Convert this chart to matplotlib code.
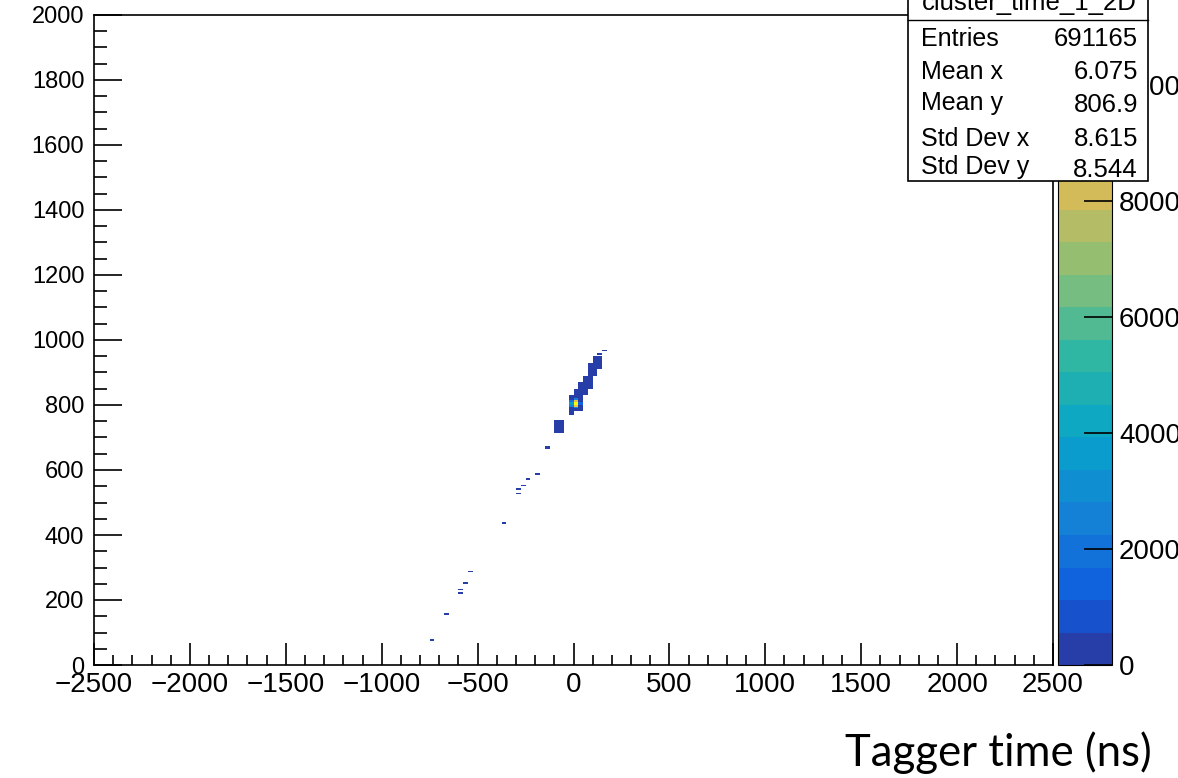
import numpy as np
import matplotlib.pyplot as plt
from matplotlib.colors import LinearSegmentedColormap, ListedColormap, BoundaryNorm
from matplotlib.patches import Rectangle
from matplotlib.lines import Line2D
from matplotlib.ticker import MultipleLocator

plt.rcParams['font.family'] = ['Liberation Sans', 'DejaVu Sans']

# binning of the 2D histogram
x_edges = np.linspace(-2500, 2500, 201)
y_edges = np.linspace(0, 2000, 401)

# single entries scattered along the diagonal
lone_x = [-738, -658, -597, -589, -568, -538, -368, -290, -278, -269, -250, -191, -147, -130, 135, 149, 170]
lone_y = [78, 158, 221, 234, 250, 286, 439, 525, 541, 551, 572, 588, 666, 672, 940, 957, 969]
lone_n = 40

# body of the streak, rows of (y_lo, y_hi, x_lo, x_hi) with a count
streak_ylo = [930, 910, 890, 870, 850, 830, 815, 780, 770, 715]
streak_yhi = [950, 930, 910, 890, 870, 850, 830, 815, 780, 755]
streak_xlo = [100, 75, 75, 50, 25, 0, -25, -25, -25, -100]
streak_xhi = [150, 150, 125, 100, 100, 75, 50, 50, 0, -50]
streak_n = [150, 200, 250, 250, 300, 350, 400, 450, 300, 400]

# the peak around (0, 805)
hot_x = [12.5, 12.5, 12.5, 12.5, 12.5, 12.5, -12.5, -12.5, -12.5, -12.5, 37.5, 37.5]
hot_y = [797.5, 802.5, 807.5, 812.5, 792.5, 817.5, 797.5, 802.5, 807.5, 812.5, 802.5, 807.5]
hot_n = [9000, 11000, 10800, 8500, 3000, 2500, 2500, 3500, 3500, 2000, 1500, 1500]

z_max = 11200
n_levels = 20

stats_names = ['Entries', 'Mean x', 'Mean y', 'Std Dev x', 'Std Dev y']
stats_vals = ['691165', '6.075', '806.9', '8.615', '8.544']

# fill the histogram
H = np.zeros((len(y_edges) - 1, len(x_edges) - 1))
xc = 0.5 * (x_edges[1:] + x_edges[:-1])
yc = 0.5 * (y_edges[1:] + y_edges[:-1])

def ibin(edges, v):
    return np.searchsorted(edges, v, side='right') - 1

for x, y in zip(lone_x, lone_y):
    H[ibin(y_edges, y), ibin(x_edges, x)] = lone_n
for ylo, yhi, xlo, xhi, n in zip(streak_ylo, streak_yhi, streak_xlo, streak_xhi, streak_n):
    iy = (yc >= ylo) & (yc < yhi)
    ix = (xc >= xlo) & (xc < xhi)
    H[np.ix_(iy, ix)] = n
for x, y, n in zip(hot_x, hot_y, hot_n):
    H[ibin(y_edges, y), ibin(x_edges, x)] = n

# ROOT kBird palette, 20 contour levels
bird = LinearSegmentedColormap.from_list('bird', list(zip(
    np.linspace(0, 1, 9),
    zip([0.2082, 0.0592, 0.0780, 0.0232, 0.1802, 0.5301, 0.8186, 0.9956, 0.9764],
        [0.1664, 0.3599, 0.5041, 0.6419, 0.7178, 0.7492, 0.7328, 0.7862, 0.9832],
        [0.5293, 0.8684, 0.8385, 0.7914, 0.6425, 0.4662, 0.3499, 0.1968, 0.0539]))))
cmap = ListedColormap([bird((i + 1) / n_levels) for i in range(n_levels)])
levels = np.linspace(0, z_max, n_levels + 1)
norm = BoundaryNorm(levels, n_levels)

W, Hh = 1178, 778
fig = plt.figure(figsize=(W / 100, Hh / 100), dpi=100)
ax = fig.add_axes([94 / W, 1 - 665 / Hh, 959 / W, 650 / Hh])
mesh = ax.pcolormesh(x_edges, y_edges, np.ma.masked_equal(H, 0), cmap=cmap, norm=norm)

ax.set_xlim(-2500, 2500)
ax.set_ylim(0, 2000)
ax.xaxis.set_major_locator(MultipleLocator(500))
ax.xaxis.set_minor_locator(MultipleLocator(100))
ax.yaxis.set_major_locator(MultipleLocator(200))
ax.yaxis.set_minor_locator(MultipleLocator(50))
ax.tick_params(axis='x', which='major', direction='in', length=16, width=1.2, labelsize=20, pad=5)
ax.tick_params(axis='x', which='minor', direction='in', length=7, width=1.2)
ax.tick_params(axis='y', which='major', direction='in', length=20, width=1.2, labelsize=17, pad=7)
ax.tick_params(axis='y', which='minor', direction='in', length=9.5, width=1.2)
for s in ax.spines.values():
    s.set_linewidth(1.2)

cax = fig.add_axes([1058 / W, 1 - 665 / Hh, 54 / W, 650 / Hh])
cb = fig.colorbar(mesh, cax=cax, ticks=np.arange(0, 10001, 2000))
cb.outline.set_linewidth(0.8)
cax.set_yticklabels([str(t) for t in range(0, 10001, 2000)])
cax.tick_params(direction='in', length=20, width=1.2, labelsize=20, pad=5, color='black')
cax.minorticks_off()

# stats box
fig.add_artist(Rectangle((908 / W, 1 - 181 / Hh), 240 / W, 200 / Hh, transform=fig.transFigure,
                         facecolor='white', edgecolor='black', linewidth=1.2, zorder=5))
fig.add_artist(Line2D([908 / W, 1148 / W], [1 - 19.5 / Hh] * 2, transform=fig.transFigure,
                      color='black', linewidth=1.0, zorder=6))
fig.text(1029 / W, 1 - 10 / Hh, 'cluster_time_1_2D', ha='center', va='baseline', fontsize=18.5, zorder=6)
name_base = [46, 79, 110, 146, 174]
val_base = [46, 79, 112, 146, 177]
for name, val, yb, yv in zip(stats_names, stats_vals, name_base, val_base):
    fig.text(921 / W, 1 - yb / Hh, name, ha='left', va='baseline', fontsize=18, zorder=6)
    fig.text(1138 / W, 1 - yv / Hh, val, ha='right', va='baseline', fontsize=18.5, zorder=6)

fig.text(1152 / W, 1 - 766 / Hh, 'Tagger time (ns)', ha='right', va='baseline',
         fontsize=31.5, family='Lato')

fig.savefig('out.png', dpi=100)
